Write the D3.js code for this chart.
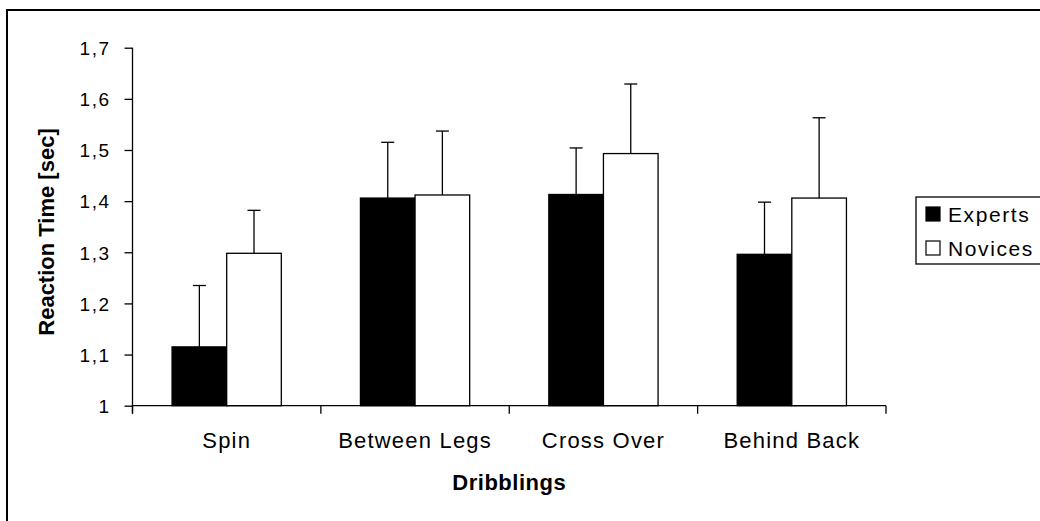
<!DOCTYPE html>
<html>
<head>
<meta charset="utf-8">
<script src="https://cdn.jsdelivr.net/npm/d3@7"></script>
<style>
  body { margin: 0; background: #fff; }
  text { font-family: "Liberation Sans", Arial, sans-serif; fill: #000; }
</style>
</head>
<body>
<svg id="chart" width="1040" height="521"></svg>
<script>
// Chart data
var categories = ["Spin", "Between Legs", "Cross Over", "Behind Back"];
var seriesNames = ["Experts", "Novices"];
var expertsMean = [1.115, 1.406, 1.413, 1.296];
var expertsErr = [0.120, 0.109, 0.091, 0.102];
var novicesMean = [1.298, 1.412, 1.493, 1.406];
var novicesErr = [0.084, 0.125, 0.136, 0.157];
var yTicks = [1, 1.1, 1.2, 1.3, 1.4, 1.5, 1.6, 1.7];

var fills = { "Experts": "#000", "Novices": "#fff" };

var svg = d3.select("#chart");

// Outer frame (runs off the right and bottom edges)
svg.append("rect")
  .attr("x", 7).attr("y", 10)
  .attr("width", 1060).attr("height", 540)
  .attr("fill", "none")
  .attr("stroke", "#000")
  .attr("stroke-width", 2);

var plotLeft = 132.5, plotRight = 886, plotTop = 47.7, plotBottom = 405.7;

var x0 = d3.scaleBand()
  .domain(categories)
  .range([plotLeft, plotRight])
  .padding(0);

var x1 = d3.scaleBand()
  .domain(seriesNames)
  .range([x0.bandwidth() * 0.21, x0.bandwidth() * 0.79])
  .padding(0);

var y = d3.scaleLinear()
  .domain([1, 1.7])
  .range([plotBottom, plotTop]);

var rows = categories.map(function(c, i) {
  return {
    category: c,
    values: [
      { name: "Experts", mean: expertsMean[i], err: expertsErr[i] },
      { name: "Novices", mean: novicesMean[i], err: novicesErr[i] }
    ]
  };
});

var g = svg.append("g");

// Error bars first, bars on top
var groups = g.selectAll(".group")
  .data(rows)
  .enter().append("g")
  .attr("class", "group")
  .attr("transform", d => `translate(${x0(d.category)},0)`);

groups.selectAll(".err")
  .data(d => d.values)
  .enter().append("line")
  .attr("class", "err")
  .attr("x1", d => x1(d.name) + x1.bandwidth() / 2)
  .attr("x2", d => x1(d.name) + x1.bandwidth() / 2)
  .attr("y1", d => y(d.mean))
  .attr("y2", d => y(d.mean + d.err))
  .attr("stroke", "#000")
  .attr("stroke-width", 1.3);

groups.selectAll(".cap")
  .data(d => d.values)
  .enter().append("line")
  .attr("class", "cap")
  .attr("x1", d => x1(d.name) + x1.bandwidth() / 2 - 6.5)
  .attr("x2", d => x1(d.name) + x1.bandwidth() / 2 + 6.5)
  .attr("y1", d => y(d.mean + d.err))
  .attr("y2", d => y(d.mean + d.err))
  .attr("stroke", "#000")
  .attr("stroke-width", 1.3);

groups.selectAll(".bar")
  .data(d => d.values)
  .enter().append("rect")
  .attr("class", "bar")
  .attr("x", d => x1(d.name))
  .attr("y", d => y(d.mean))
  .attr("width", x1.bandwidth())
  .attr("height", d => y(1) - y(d.mean))
  .attr("fill", d => fills[d.name])
  .attr("stroke", "#000")
  .attr("stroke-width", 1.3);

// Y axis
var yAxis = g.append("g")
  .attr("transform", `translate(${plotLeft},0)`)
  .call(d3.axisLeft(y)
    .tickValues(yTicks)
    .tickSize(8)
    .tickPadding(14)
    .tickFormat(d => d3.format(".1~f")(d).replace(".", ",")));

yAxis.select(".domain").remove();
yAxis.selectAll(".tick line").attr("stroke", "#000").attr("stroke-width", 1.3);
yAxis.selectAll("text")
  .style("font-size", "19px")
  .style("letter-spacing", "1.5px")
  .style("font-family", "'Liberation Sans', Arial, sans-serif")
  .attr("fill", "#000")
  .attr("dy", "0.36em");

g.append("line")
  .attr("x1", plotLeft).attr("x2", plotLeft)
  .attr("y1", plotTop).attr("y2", plotBottom + 8)
  .attr("stroke", "#000").attr("stroke-width", 1.3);

// X axis: ticks sit on category boundaries
var boundaries = categories.map(c => x0(c)).concat([plotRight]);

g.append("line")
  .attr("x1", plotLeft).attr("x2", plotRight)
  .attr("y1", plotBottom).attr("y2", plotBottom)
  .attr("stroke", "#000").attr("stroke-width", 1.3);

g.selectAll(".xtick")
  .data(boundaries)
  .enter().append("line")
  .attr("class", "xtick")
  .attr("x1", d => d).attr("x2", d => d)
  .attr("y1", plotBottom).attr("y2", plotBottom + 8)
  .attr("stroke", "#000").attr("stroke-width", 1.3);

g.selectAll(".xlabel")
  .data(categories)
  .enter().append("text")
  .attr("class", "xlabel")
  .attr("x", d => x0(d) + x0.bandwidth() / 2)
  .attr("y", 448)
  .attr("text-anchor", "middle")
  .style("font-size", "22px")
  .style("letter-spacing", "1.2px")
  .text(d => d);

// Axis titles
svg.append("text")
  .attr("x", (plotLeft + plotRight) / 2)
  .attr("y", 490)
  .attr("text-anchor", "middle")
  .style("font-size", "22px")
  .style("font-weight", "bold")
  .style("letter-spacing", "0.5px")
  .text("Dribblings");

svg.append("text")
  .attr("transform", "translate(54,232) rotate(-90)")
  .attr("text-anchor", "middle")
  .style("font-size", "22px")
  .style("font-weight", "bold")
  .text("Reaction Time [sec]");

// Legend
var legend = svg.append("g")
  .attr("transform", "translate(916,197)");

legend.append("rect")
  .attr("x", 0).attr("y", 0)
  .attr("width", 140).attr("height", 67)
  .attr("fill", "#fff")
  .attr("stroke", "#000")
  .attr("stroke-width", 1.3);

var items = legend.selectAll(".item")
  .data(seriesNames)
  .enter().append("g")
  .attr("class", "item")
  .attr("transform", (d, i) => `translate(10,${10 + i * 34})`);

items.append("rect")
  .attr("width", 14).attr("height", 14)
  .attr("fill", d => fills[d])
  .attr("stroke", "#000")
  .attr("stroke-width", 1.2);

items.append("text")
  .attr("x", 22)
  .attr("y", 15)
  .style("font-size", "21px")
  .style("letter-spacing", "1.6px")
  .text(d => d);
</script>
</body>
</html>
